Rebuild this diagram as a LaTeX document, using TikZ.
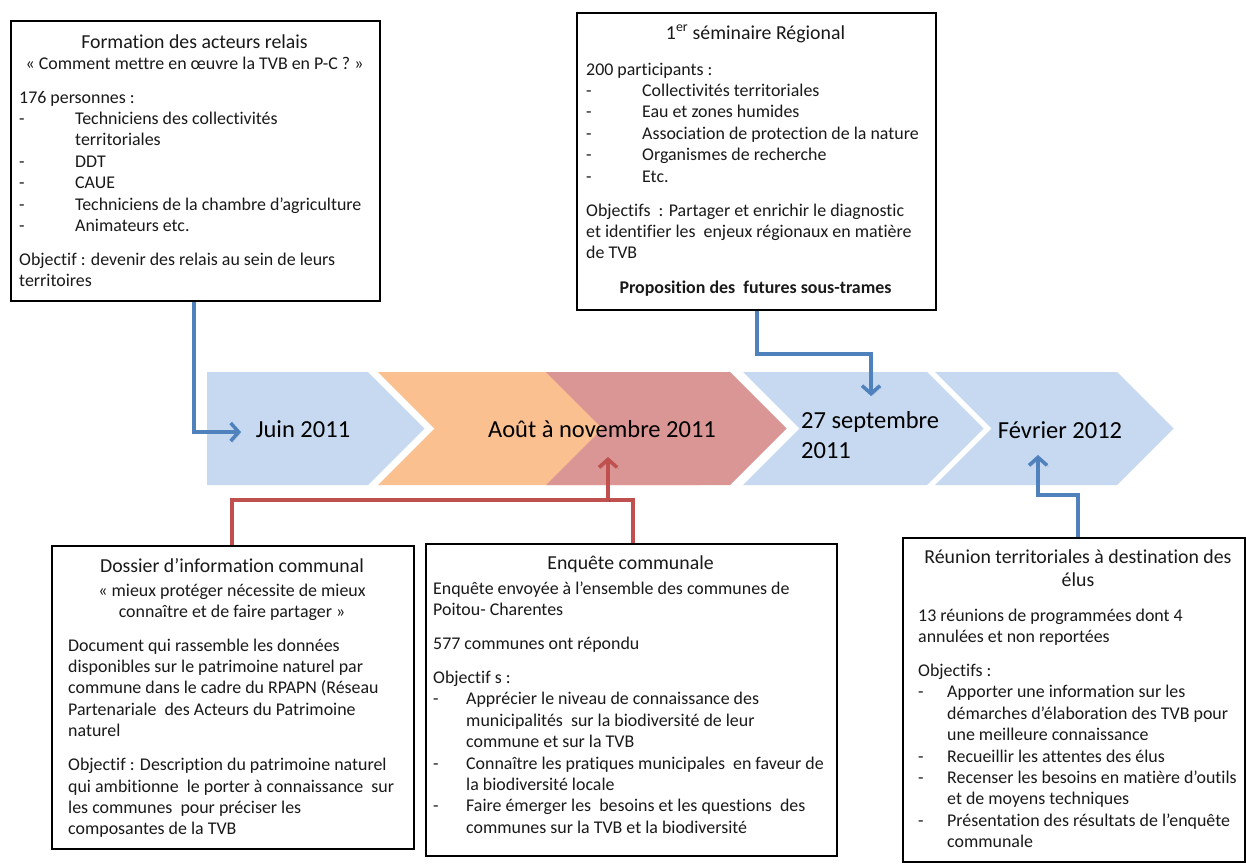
\documentclass[tikz,border=0pt]{standalone}
\usepackage{fontspec}
\setmainfont{Carlito}[Ligatures=CommonOff]
\usetikzlibrary{arrows.meta}
\definecolor{chblue}{RGB}{198,217,241}
\definecolor{chorange}{RGB}{250,192,144}
\definecolor{chred}{RGB}{217,150,148}
\definecolor{lnblue}{RGB}{79,129,189}
\definecolor{lnred}{RGB}{192,80,77}
\definecolor{txt}{RGB}{25,25,25}
\newlength{\lind}
\newcommand{\litem}[1]{\makebox[\lind][l]{-}#1}
\newcommand{\lcont}[1]{\hspace*{\lind}#1}
\newcommand{\bodyf}{\fontsize{17.9}{21.4}\selectfont}
\newcommand{\titlef}{\fontsize{19.8}{23}\selectfont}
\newcommand{\tlf}{\fontsize{24.5}{30}\selectfont}
\begin{document}
\begin{tikzpicture}[x=1pt,y=-1pt,
  box/.style={draw=black, line width=1.8pt, fill=white, inner sep=0pt, anchor=north west},
  txtl/.style={anchor=base west, inner sep=0pt, text=txt},
  txtc/.style={anchor=base, inner sep=0pt, text=txt},
  tl/.style={anchor=base, inner sep=0pt, text=black, font=\tlf},
  conn/.style={line width=3.5pt, -{Straight Barb[length=8pt,width=18pt]},
    preaction={draw=black, opacity=0.18, transform canvas={shift={(1.5pt,-1.5pt)}}}},
  bconn/.style={conn, draw=lnblue},
  rconn/.style={conn, draw=lnred},
  rline/.style={draw=lnred, line width=3.5pt,
    preaction={draw=black, opacity=0.18, transform canvas={shift={(1.5pt,-1.5pt)}}}}
]
\useasboundingbox (0,0) rectangle (1246,863);
\fill[white] (0,0) rectangle (1246,863);

% timeline chevrons
\fill[chblue] (207,372) -- (368,372) -- (424.5,428.5) -- (368,485) -- (207,485) -- cycle;
\fill[chorange] (378,372) -- (700,372) -- (756.5,428.5) -- (700,485) -- (378,485) -- (434.5,428.5) -- cycle;
\fill[chred] (546,372) -- (730,372) -- (786.5,428.5) -- (730,485) -- (546,485) -- (602.5,428.5) -- cycle;
\fill[chblue] (743,372) -- (927,372) -- (983.5,428.5) -- (927,485) -- (743,485) -- (799.5,428.5) -- cycle;
\fill[chblue] (935,372) -- (1117,372) -- (1173.5,428.5) -- (1117,485) -- (935,485) -- (991.5,428.5) -- cycle;

\node[tl] (tjuin) at (303,437) {Juin 2011};
\node[tl] (taout) at (602,437) {Août à novembre 2011};
\node[tl, anchor=base west] (tsept) at (801,428) {\parbox[t]{160pt}{\tlf 27 septembre\\2011}};
\node[tl] (tfev) at (1060,438) {Février 2012};

% boxes
\node[box, minimum width=369pt, minimum height=280pt] (b1) at (10,20) {};
\node[box, minimum width=359pt, minimum height=297pt] (b2) at (576,12) {};
\node[box, minimum width=362pt, minimum height=303pt] (b3) at (51,545) {};
\node[box, minimum width=411pt, minimum height=312pt] (b4) at (425,543) {};
\node[box, minimum width=342pt, minimum height=324pt] (b5) at (902,537) {};

% box 1
\node[txtc] (b1t) at (194.5,48.5) {\titlef Formation des acteurs relais};
\node[txtc] (b1s) at (194.5,69) {\bodyf « Comment mettre en œuvre la TVB en P-C ? »};
\node[txtl] (b1b) at (19,103) {\parbox[t]{355pt}{\bodyf\raggedright\setlength{\lind}{56pt}%
176 personnes :\\
\litem{Techniciens des collectivités}\\
\lcont{territoriales}\\
\litem{DDT}\\
\litem{CAUE}\\
\litem{Techniciens de la chambre d’agriculture}\\
\litem{Animateurs etc.}\\[12.6pt]
Objectif : devenir des relais au sein de leurs\\
territoires}};

% box 2
\node[txtc] (b2t) at (755.5,39.5) {\titlef 1\textsuperscript{er} séminaire Régional};
\node[txtl] (b2b) at (586,75) {\parbox[t]{345pt}{\bodyf\raggedright\setlength{\lind}{56pt}%
200 participants :\\
\litem{Collectivités territoriales}\\
\litem{Eau et zones humides}\\
\litem{Association de protection de la nature}\\
\litem{Organismes de recherche}\\
\litem{Etc.}\\[12.6pt]
Objectifs\ \ : Partager et enrichir le diagnostic\\
et identifier les\ \ enjeux régionaux en matière\\
de TVB}};
\node[txtc] (b2p) at (755.5,293) {\bodyf\bfseries Proposition des\ \ futures sous-trames};

% box 3
\node[txtc] (b3t) at (232,572.5) {\titlef Dossier d’information communal};
\node[txtc] (b3s) at (232,596) {\parbox[t]{355pt}{\centering\bodyf « mieux protéger nécessite de mieux\\connaître et de faire partager »}};
\node[txtl] (b3b) at (68,651) {\parbox[t]{345pt}{\bodyf\raggedright
Document qui rassemble les données\\
disponibles sur le patrimoine naturel par\\
commune dans le cadre du RPAPN (Réseau\\
Partenariale\ \ des Acteurs du Patrimoine\\
naturel\\[12.6pt]
Objectif : Description du patrimoine naturel\\
qui ambitionne\ \ le porter à connaissance\ \ sur\\
les communes\ \ pour préciser les\\
composantes de la TVB}};

% box 4
\node[txtc] (b4t) at (630.5,569.5) {\titlef Enquête communale};
\node[txtl] (b4b) at (433,594) {\parbox[t]{400pt}{\bodyf\raggedright\setlength{\lind}{33pt}%
Enquête envoyée à l’ensemble des communes de\\
Poitou- Charentes\\[12.6pt]
577 communes ont répondu\\[12.6pt]
Objectif s :\\
\litem{Apprécier le niveau de connaissance des}\\
\lcont{municipalités\ \ sur la biodiversité de leur}\\
\lcont{commune et sur la TVB}\\
\litem{Connaître les pratiques municipales\ \ en faveur de}\\
\lcont{la biodiversité locale}\\
\litem{Faire émerger les\ \ besoins et les questions\ \ des}\\
\lcont{communes sur la TVB et la biodiversité}}};

% box 5
\node[txtc] (b5t) at (1078,563.5) {\parbox[t]{340pt}{\centering\titlef Réunion territoriales à destination des\\élus}};
\node[txtl] (b5b) at (918,621) {\parbox[t]{330pt}{\bodyf\raggedright\setlength{\lind}{29pt}%
13 réunions de programmées dont 4\\
annulées et non reportées\\[12.6pt]
Objectifs :\\
\litem{Apporter une information sur les}\\
\lcont{démarches d’élaboration des TVB pour}\\
\lcont{une meilleure connaissance}\\
\litem{Recueillir les attentes des élus}\\
\litem{Recenser les besoins en matière d’outils}\\
\lcont{et de moyens techniques}\\
\litem{Présentation des résultats de l’enquête}\\
\lcont{communale}}};

% connectors
\coordinate (k1) at (194,0);
\coordinate (a1) at (241,432);
\draw[bconn] (b1.south -| k1) |- (a1);

\coordinate (k2) at (757,0);
\coordinate (m2) at (871,354);
\coordinate (a2) at (871,396);
\draw[bconn] (b2.south -| k2) |- (m2) -- (a2);

\coordinate (k3) at (1078,0);
\coordinate (m3) at (1038,495);
\coordinate (a3) at (1038,455);
\draw[bconn] (b5.north -| k3) |- (m3) -- (a3);

\coordinate (k4) at (232,0);
\coordinate (m4) at (633,500);
\coordinate (j4) at (608,500);
\coordinate (a4) at (608,457);
\draw[rline] (b3.north -| k4) |- (m4) -- (b4.north -| m4);
\draw[rconn] (j4) -- (a4);
\end{tikzpicture}
\end{document}
